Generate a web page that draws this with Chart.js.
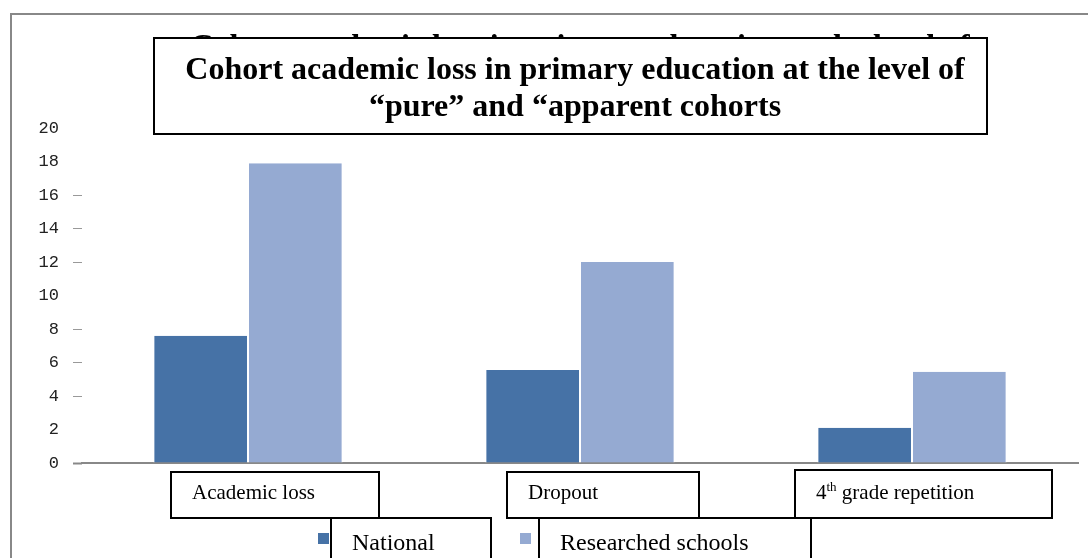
<!DOCTYPE html>
<html>
<head>
<meta charset="utf-8">
<script src="https://cdn.jsdelivr.net/npm/chart.js@4.4.0/dist/chart.umd.min.js"></script>
<style>
  html, body { margin: 0; padding: 0; background: #fff; }
  #wrap { position: relative; width: 1088px; height: 558px; }
</style>
</head>
<body>
<div id="wrap"><canvas id="myChart" width="1088" height="558"></canvas></div>
<script>
var categories = ['Academic loss', 'Dropout', '4th grade repetition'];
var national = [7.6, 5.55, 2.1];
var researched = [17.9, 12.0, 5.45];
var seriesNames = ['National', 'Researched schools'];
var yTicks = [0, 2, 4, 6, 8, 10, 12, 14, 16, 18, 20];
var titleLines = ['Cohort academic loss in primary education at the level of', '\u201cpure\u201d and \u201capparent cohorts'];

// boxes around the category names and legend entries (left, top, right, bottom)
var catBoxes = [[171, 472, 379, 518], [507, 472, 699, 518], [795, 470, 1052, 518]];
var legendBoxes = [[331, 518, 491, 562], [539, 518, 811, 562]];
var legendSwatches = [[318, 533], [520, 533]];
var colors = ['#4672a6', '#95aad2'];

function box(ctx, b) {
    ctx.fillStyle = '#fff';
    ctx.fillRect(b[0], b[1], b[2] - b[0], b[3] - b[1]);
    ctx.strokeStyle = '#000';
    ctx.lineWidth = 2;
    ctx.strokeRect(b[0], b[1], b[2] - b[0], b[3] - b[1]);
}

// writes "4th ..." with a raised suffix
function labelText(ctx, s, x, y, size) {
    var m = s.match(/^(\d+)(st|nd|rd|th)(.*)$/);
    ctx.font = size + 'px "Liberation Serif", "Times New Roman", serif';
    if (!m) { ctx.fillText(s, x, y); return; }
    ctx.fillText(m[1], x, y);
    x += ctx.measureText(m[1]).width;
    ctx.font = Math.round(size * 0.62) + 'px "Liberation Serif", serif';
    ctx.fillText(m[2], x, y - size * 0.4);
    x += ctx.measureText(m[2]).width;
    ctx.font = size + 'px "Liberation Serif", "Times New Roman", serif';
    ctx.fillText(m[3], x, y);
}

var decorations = {
    id: 'decorations',
    beforeDraw: function(chart) {
        var ctx = chart.ctx;
        ctx.save();
        ctx.strokeStyle = '#888';
        ctx.lineWidth = 2;
        ctx.beginPath();
        ctx.moveTo(11, 560);
        ctx.lineTo(11, 14);
        ctx.lineTo(1090, 14);
        ctx.stroke();
        ctx.restore();
    },
    afterDraw: function(chart) {
        var ctx = chart.ctx;
        ctx.save();
        // title box, with an older title peeking out above it
        ctx.fillStyle = '#000';
        ctx.textAlign = 'center';
        ctx.textBaseline = 'alphabetic';
        ctx.font = 'bold 32px "Liberation Serif", "Times New Roman", serif';
        ctx.fillText(titleLines[0], 580, 56);
        box(ctx, [154, 38, 987, 134]);
        ctx.fillStyle = '#000';
        ctx.fillText(titleLines[0], 575, 79);
        ctx.fillText(titleLines[1], 575, 116);

        // legend
        ctx.textAlign = 'left';
        for (var i = 0; i < seriesNames.length; i++) {
            box(ctx, legendBoxes[i]);
            ctx.fillStyle = colors[i];
            ctx.fillRect(legendSwatches[i][0], legendSwatches[i][1], 11, 11);
            ctx.fillStyle = '#000';
            labelText(ctx, seriesNames[i], legendBoxes[i][0] + 21, 550, 24);
        }

        // category names
        for (var j = 0; j < categories.length; j++) {
            box(ctx, catBoxes[j]);
            ctx.fillStyle = '#000';
            labelText(ctx, categories[j], catBoxes[j][0] + 21, 499, 21);
        }
        ctx.restore();
    }
};

var dashed = [4, 6, 8, 12, 14, 16];

var ctx = document.getElementById('myChart').getContext('2d');
var barChart = new Chart(ctx, {
    type: 'bar',
    data: {
        labels: categories,
        datasets: [
            { label: seriesNames[0], data: national, backgroundColor: colors[0], borderColor: '#fff', borderWidth: { left: 1, right: 1 } },
            { label: seriesNames[1], data: researched, backgroundColor: colors[1], borderColor: '#fff', borderWidth: { left: 1, right: 1 } }
        ]
    },
    options: {
        responsive: false,
        animation: false,
        events: [],
        layout: { padding: { left: 12, right: 10, top: 128, bottom: 95 } },
        plugins: { legend: { display: false }, title: { display: false }, tooltip: { enabled: false } },
        datasets: { bar: { barPercentage: 1, categoryPercentage: 0.57 } },
        scales: {
            x: {
                ticks: { display: false },
                grid: { display: false },
                border: { display: true, color: '#888', width: 2 },
                afterFit: function(s) { s.height = 0; }
            },
            y: {
                min: 0,
                max: 20,
                afterBuildTicks: function(s) { s.ticks = yTicks.map(function(v) { return { value: v }; }); },
                ticks: {
                    padding: 14,
                    color: '#222',
                    font: { family: '"Liberation Mono", "DejaVu Sans Mono", monospace', size: 17 }
                },
                grid: {
                    drawOnChartArea: false,
                    tickLength: 9,
                    tickWidth: function(c) { return c.tick && c.tick.value === 0 ? 2 : 1; },
                    tickColor: function(c) {
                        if (!c.tick) return 'transparent';
                        if (c.tick.value === 0) return '#888';
                        return dashed.indexOf(c.tick.value) >= 0 ? '#999' : 'transparent';
                    }
                },
                border: { display: false },
                afterFit: function(s) { s.width = 70; }
            }
        }
    },
    plugins: [decorations]
});
</script>
</body>
</html>
